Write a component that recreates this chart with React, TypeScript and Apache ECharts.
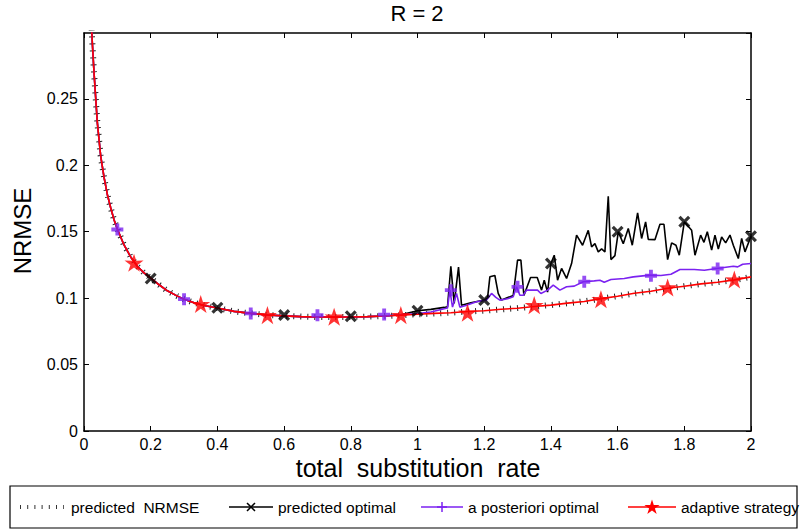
import React, { useEffect, useRef } from "react";
import * as echarts from "echarts";

// Smooth predicted NRMSE curve (also followed by the adaptive strategy)
const curveX = [0.02, 0.025, 0.03, 0.035, 0.04, 0.05, 0.06, 0.07, 0.08, 0.09, 0.1, 0.12, 0.14, 0.16, 0.18, 0.2, 0.22, 0.25, 0.28, 0.3, 0.33, 0.36, 0.4, 0.45, 0.5, 0.55, 0.6, 0.65, 0.7, 0.75, 0.8, 0.85, 0.9, 0.95, 1.0, 1.05, 1.1, 1.15, 1.2, 1.25, 1.3, 1.35, 1.4, 1.45, 1.5, 1.55, 1.6, 1.65, 1.7, 1.75, 1.8, 1.85, 1.9, 1.95, 2.0];
const predictedY = [0.318, 0.292, 0.27, 0.251, 0.232, 0.207, 0.191, 0.178, 0.168, 0.159, 0.152, 0.14, 0.131, 0.124, 0.119, 0.115, 0.111, 0.1055, 0.1015, 0.0992, 0.0965, 0.0945, 0.0925, 0.09, 0.0885, 0.0873, 0.0866, 0.0861, 0.0858, 0.0857, 0.0858, 0.0861, 0.0865, 0.0871, 0.0878, 0.0884, 0.0891, 0.0898, 0.0906, 0.0915, 0.0925, 0.0936, 0.0948, 0.0961, 0.0976, 0.0995, 0.1015, 0.1035, 0.1053, 0.1072, 0.109, 0.1106, 0.112, 0.1135, 0.116];
const adaptiveY = [0.318, 0.292, 0.27, 0.251, 0.232, 0.207, 0.191, 0.178, 0.168, 0.159, 0.152, 0.14, 0.131, 0.124, 0.119, 0.115, 0.111, 0.1055, 0.1015, 0.0992, 0.0965, 0.0945, 0.0925, 0.09, 0.0885, 0.0873, 0.0866, 0.0861, 0.0858, 0.0857, 0.0858, 0.0861, 0.0865, 0.0871, 0.0878, 0.0885, 0.089, 0.0899, 0.0905, 0.0916, 0.0924, 0.0937, 0.0947, 0.0962, 0.0975, 0.0996, 0.1014, 0.1036, 0.1052, 0.1074, 0.1089, 0.1107, 0.1119, 0.1137, 0.116];

// Tail (x >= 0.95) of the a posteriori optimal curve
const posterioriTail: number[][] = [[0.95, 0.0875], [1.0, 0.0884], [1.04, 0.0895], [1.08, 0.092], [1.09, 0.0925], [1.097, 0.106], [1.105, 0.0932], [1.117, 0.1035], [1.127, 0.0932], [1.147, 0.0947], [1.177, 0.0972], [1.207, 0.0985], [1.222, 0.1035], [1.235, 0.1005], [1.247, 0.0985], [1.27, 0.0995], [1.287, 0.101], [1.297, 0.1085], [1.307, 0.1022], [1.317, 0.1022], [1.327, 0.106], [1.36, 0.106], [1.37, 0.1035], [1.39, 0.106], [1.407, 0.1098], [1.427, 0.106], [1.447, 0.1085], [1.47, 0.109], [1.497, 0.1123], [1.53, 0.113], [1.547, 0.1135], [1.56, 0.112], [1.58, 0.114], [1.62, 0.1148], [1.647, 0.116], [1.697, 0.1173], [1.73, 0.117], [1.76, 0.118], [1.787, 0.1215], [1.83, 0.1215], [1.86, 0.121], [1.897, 0.1223], [1.947, 0.124], [1.96, 0.1235], [1.975, 0.1255], [2.0, 0.126]];

// Tail (x >= 0.95) of the predicted optimal curve
const optimalTail: number[][] = [[0.95, 0.0875], [1.0, 0.0905], [1.04, 0.0915], [1.08, 0.093], [1.09, 0.0935], [1.1, 0.124], [1.11, 0.096], [1.123, 0.1233], [1.132, 0.0947], [1.16, 0.0965], [1.2, 0.0985], [1.21, 0.1], [1.217, 0.116], [1.232, 0.117], [1.242, 0.1035], [1.252, 0.0985], [1.287, 0.102], [1.3, 0.1286], [1.31, 0.1286], [1.319, 0.102], [1.339, 0.1155], [1.359, 0.1155], [1.372, 0.106], [1.38, 0.1135], [1.39, 0.1045], [1.4, 0.126], [1.41, 0.1323], [1.42, 0.1135], [1.432, 0.1223], [1.447, 0.1148], [1.462, 0.126], [1.477, 0.1474], [1.495, 0.1398], [1.512, 0.151], [1.522, 0.1386], [1.532, 0.141], [1.542, 0.1348], [1.552, 0.137], [1.562, 0.1348], [1.572, 0.1767], [1.58, 0.129], [1.592, 0.132], [1.602, 0.1499], [1.617, 0.141], [1.632, 0.1524], [1.644, 0.1398], [1.66, 0.1642], [1.672, 0.1449], [1.684, 0.1574], [1.692, 0.1442], [1.712, 0.144], [1.727, 0.1556], [1.739, 0.1556], [1.75, 0.129], [1.762, 0.1416], [1.775, 0.1398], [1.785, 0.1323], [1.8, 0.1574], [1.822, 0.151], [1.832, 0.1323], [1.849, 0.1474], [1.859, 0.142], [1.869, 0.1499], [1.882, 0.1361], [1.892, 0.1474], [1.902, 0.137], [1.912, 0.146], [1.924, 0.1416], [1.937, 0.1474], [1.947, 0.1398], [1.962, 0.1298], [1.972, 0.1449], [1.982, 0.1348], [2.0, 0.1466]];

// Marker positions
const optimalMarkers: number[][] = [[0.2, 0.1148], [0.4, 0.0928], [0.6, 0.0872], [0.8, 0.0863], [1.0, 0.0905], [1.2, 0.0985], [1.4, 0.126], [1.6, 0.1499], [1.8, 0.1574], [2.0, 0.1466]];
const posterioriMarkers: number[][] = [[0.1, 0.1516], [0.3, 0.0992], [0.5, 0.0885], [0.7, 0.0871], [0.9, 0.0876], [1.1, 0.106], [1.3, 0.1085], [1.5, 0.1123], [1.7, 0.1168], [1.9, 0.1223]];
const adaptiveMarkers: number[][] = [[0.15, 0.1266], [0.35, 0.0955], [0.55, 0.0872], [0.75, 0.086], [0.95, 0.0872], [1.15, 0.089], [1.35, 0.0947], [1.55, 0.0992], [1.75, 0.108], [1.95, 0.114]];

const xTicks = { min: 0, max: 2, interval: 0.2 };
const yTicks = { min: 0, max: 0.2995, interval: 0.05 };

const legendLabels = ["predicted  NRMSE", "predicted optimal", "a posteriori optimal", "adaptive strategy"];

const PURPLE = "#7b22f0";
const RED = "#ff0000";
const FONT = "Liberation Sans, Arial, Helvetica, sans-serif";

const STAR = "path://M50,0L61.2,34.6L97.6,34.5L68.1,55.9L79.4,90.5L50,69L20.6,90.5L31.9,55.9L2.4,34.5L38.8,34.6Z";
const CROSS = "path://M0,1.9L1.9,0L5,3.1L8.1,0L10,1.9L6.9,5L10,8.1L8.1,10L5,6.9L1.9,10L0,8.1L3.1,5Z";
const PLUS = "path://M3.4,0H6.6V3.4H10V6.6H6.6V10H3.4V6.6H0V3.4H3.4Z";

const starPoints = (cx: number, cy: number, s: number) => {
  const pts = [[50, 0], [61.2, 34.6], [97.6, 34.5], [68.1, 55.9], [79.4, 90.5], [50, 69], [20.6, 90.5], [31.9, 55.9], [2.4, 34.5], [38.8, 34.6]];
  return pts.map(([px, py]) => [cx + ((px - 50) / 100) * s, cy + ((py - 47) / 100) * s]);
};

export default function App() {
  const ref = useRef<HTMLDivElement>(null);
  useEffect(() => {
    if (!ref.current) return;
    const chart = echarts.init(ref.current, undefined, { renderer: "svg" });
    const predicted = curveX.map((x, i) => [x, predictedY[i]]);
    const adaptive = curveX.map((x, i) => [x, adaptiveY[i]]);
    const head = predicted.filter((p) => p[0] < 0.95);
    const posteriori = head.concat(posterioriTail);
    const optimal = head.concat(optimalTail);

    const axisCommon = {
      type: "value" as const,
      axisLine: { show: true, onZero: false, lineStyle: { color: "#000", width: 1.5 } },
      axisTick: { show: true, inside: true, length: 5, lineStyle: { color: "#000", width: 1 } },
      splitLine: { show: false },
    };

    const ly = 507;
    const lf = `15.5px ${FONT}`;
    const legendGraphics: any[] = [
      { type: "rect", shape: { x: 10, y: 486, width: 787, height: 42 }, style: { fill: "#fff", stroke: "#000", lineWidth: 1.2 }, z: 10 },
      // item 1: dotted
      { type: "line", shape: { x1: 20, y1: ly, x2: 64, y2: ly }, style: { stroke: "#333", lineWidth: 4, lineDash: [1, 6.2], lineCap: "butt" }, z: 11 },
      { type: "text", x: 71, y: ly, style: { text: legendLabels[0], font: lf, fill: "#000", verticalAlign: "middle" }, z: 11 },
      // item 2: black line with x
      { type: "line", shape: { x1: 229, y1: ly, x2: 273, y2: ly }, style: { stroke: "#000", lineWidth: 1.5 }, z: 11 },
      { type: "line", shape: { x1: 247, y1: ly - 4, x2: 255, y2: ly + 4 }, style: { stroke: "#000", lineWidth: 1.5 }, z: 11 },
      { type: "line", shape: { x1: 247, y1: ly + 4, x2: 255, y2: ly - 4 }, style: { stroke: "#000", lineWidth: 1.5 }, z: 11 },
      { type: "text", x: 278, y: ly, style: { text: legendLabels[1], font: lf, fill: "#000", verticalAlign: "middle" }, z: 11 },
      // item 3: purple line with +
      { type: "line", shape: { x1: 421, y1: ly, x2: 463, y2: ly }, style: { stroke: PURPLE, lineWidth: 1.5 }, z: 11 },
      { type: "line", shape: { x1: 442, y1: ly - 5, x2: 442, y2: ly + 5 }, style: { stroke: PURPLE, lineWidth: 1.5 }, z: 11 },
      { type: "line", shape: { x1: 437, y1: ly, x2: 447, y2: ly }, style: { stroke: PURPLE, lineWidth: 1.5 }, z: 11 },
      { type: "text", x: 468, y: ly, style: { text: legendLabels[2], font: lf, fill: "#000", verticalAlign: "middle" }, z: 11 },
      // item 4: red line with star
      { type: "line", shape: { x1: 628, y1: ly, x2: 676, y2: ly }, style: { stroke: RED, lineWidth: 1.5 }, z: 11 },
      { type: "polygon", shape: { points: starPoints(652, ly, 16) }, style: { fill: RED }, z: 12 },
      { type: "text", x: 681, y: ly, style: { text: legendLabels[3], font: lf, fill: "#000", verticalAlign: "middle" }, z: 11 },
    ];

    chart.setOption({
      animation: false,
      backgroundColor: "#fff",
      textStyle: { fontFamily: FONT },
      grid: { left: 84, right: 52, top: 33, bottom: 99, containLabel: false },
      xAxis: [
        { ...axisCommon, ...xTicks, position: "bottom", axisLabel: { color: "#000", fontSize: 16, margin: 5, fontFamily: FONT } },
        { ...axisCommon, ...xTicks, position: "top", axisLabel: { show: false } },
      ],
      yAxis: [
        { ...axisCommon, ...yTicks, position: "left", axisLabel: { color: "#000", fontSize: 16, margin: 6, showMaxLabel: false, fontFamily: FONT } },
        { ...axisCommon, ...yTicks, position: "right", axisLabel: { show: false } },
      ],
      graphic: [
        { type: "text", x: 417, y: 13, style: { text: "R = 2", font: `22px ${FONT}`, fill: "#000", align: "center", verticalAlign: "middle" } },
        { type: "text", x: 418, y: 468, style: { text: "total  substitution  rate", font: `25px ${FONT}`, fill: "#000", align: "center", verticalAlign: "middle" } },
        { type: "text", x: 22, y: 231, rotation: Math.PI / 2, style: { text: "NRMSE", font: `24px ${FONT}`, fill: "#000", align: "center", verticalAlign: "middle" } },
        ...legendGraphics,
      ],
      series: [
        { name: "predicted NRMSE", type: "line", data: predicted, symbol: "none", lineStyle: { color: "#222", width: 6, type: [1, 6], cap: "butt" }, z: 1 },
        { name: "predicted optimal", type: "line", data: optimal, symbol: "none", lineStyle: { color: "#000", width: 1.6 }, z: 2 },
        { name: "a posteriori optimal", type: "line", data: posteriori, symbol: "none", lineStyle: { color: PURPLE, width: 1.6 }, z: 3 },
        { name: "adaptive strategy", type: "line", data: adaptive, symbol: "none", lineStyle: { color: RED, width: 1.6 }, z: 4 },
        { type: "scatter", data: optimalMarkers, symbol: CROSS, symbolSize: 12, itemStyle: { color: "#000" }, z: 5, clip: false },
        { type: "scatter", data: posterioriMarkers, symbol: PLUS, symbolSize: 12, itemStyle: { color: PURPLE }, z: 5, clip: false },
        { type: "scatter", data: adaptiveMarkers, symbol: STAR, symbolSize: 19, symbolKeepAspect: true, itemStyle: { color: RED }, z: 6, clip: false },
      ],
    });
    return () => chart.dispose();
  }, []);
  return <div ref={ref} style={{ position: "fixed", left: 0, top: 0, width: 803, height: 530, background: "#fff" }} />;
}
